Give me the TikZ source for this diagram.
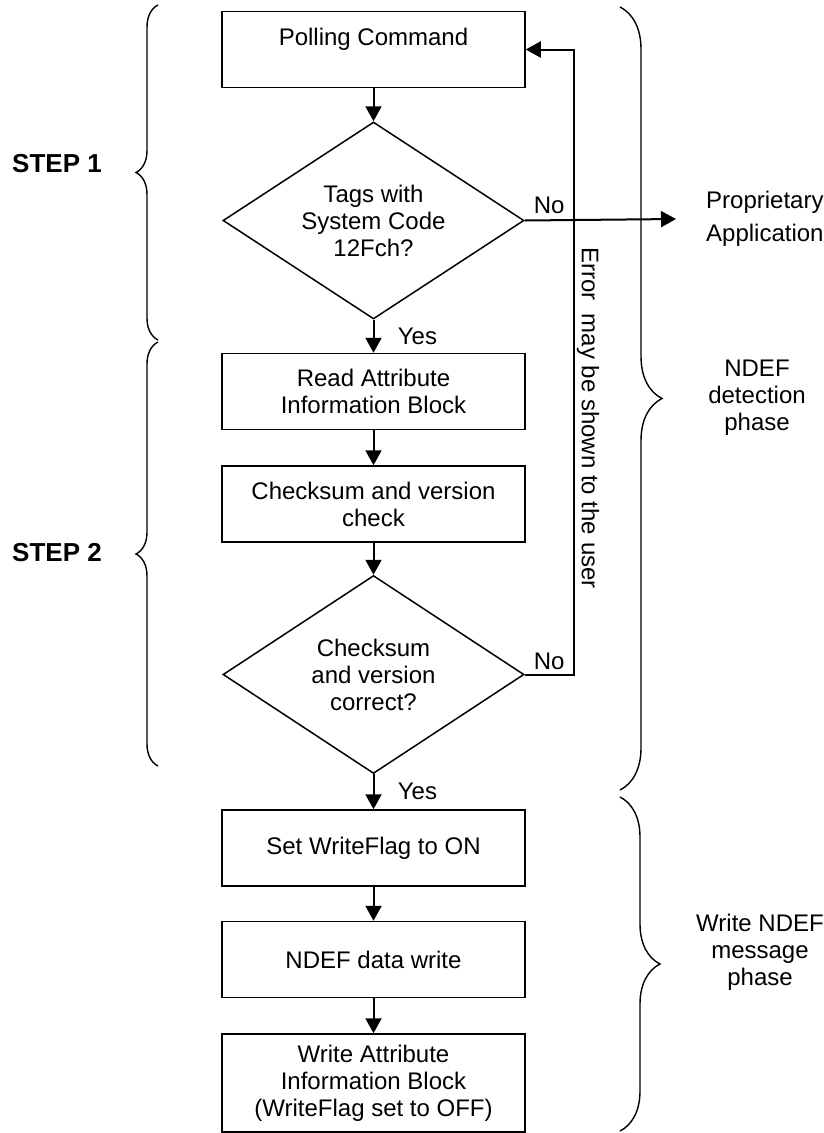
\documentclass[tikz,border=0pt]{standalone}
\usepackage{fontspec}
\setmainfont{Liberation Sans}
\usetikzlibrary{positioning,shapes.geometric,arrows.meta,decorations.pathreplacing}

\tikzset{
	stepbox/.style={draw,line width=1.5pt,minimum width=303pt,minimum height=76pt,inner sep=0pt,align=center},
	decide/.style={draw,diamond,aspect=1.5,line width=1.5pt,minimum width=301pt,minimum height=197pt,inner sep=0pt,align=center},
	arr/.style={line width=2pt,-{Triangle[length=15pt 0,width=16pt 0]}},
	brc/.style={decorate,decoration={brace,amplitude=#1},line width=1.4pt},
	lbl/.style={inner xsep=8pt,inner ysep=6pt},
	phase/.style={align=center,inner sep=0pt}
}

\begin{document}
\begin{tikzpicture}[x=1pt,y=1pt,font=\fontsize{24}{27}\selectfont]
		\useasboundingbox (0,0) rectangle (823,-1133);
		\node[stepbox,text depth=26pt] (poll) at (373.5,-49.5) {Polling Command};
		\node[decide,below=33pt of poll] (tags) {Tags with\\System Code\\12Fch?};
		\node[stepbox,below=33pt of tags] (read) {Read Attribute\\Information Block};
		\node[stepbox,below=35pt of read] (chk) {Checksum and version\\check};
		\node[decide,below=32pt of chk,minimum height=198pt] (csok) {Checksum\\and version\\correct?};
		\node[stepbox,below=35pt of csok] (setw) {Set WriteFlag to ON};
		\node[stepbox,below=34pt of setw] (ndefw) {NDEF data write};
		\node[stepbox,below=35pt of ndefw,minimum height=98pt] (wattr) {Write Attribute\\Information Block\\(WriteFlag set to OFF)};
		
		\draw[arr] (poll) -- (tags);
		\draw[arr] (tags) -- node[right=20pt]{Yes} (read);
		\draw[arr] (read) -- (chk);
		\draw[arr] (chk) -- (csok);
		\draw[arr] (csok) -- node[right=20pt]{Yes} (setw);
		\draw[arr] (setw) -- (ndefw);
		\draw[arr] (ndefw) -- (wattr);
		
		\coordinate (propin) at (676,-219);
		\node[right=30pt of propin,align=left,inner sep=0pt] (prop) {Proprietary\\[6pt]Application};
		\draw[arr] (tags.east) -- node[lbl,pos=0,anchor=south west]{No} (propin);
		\draw[arr] (csok.east) -- node[lbl,pos=0,anchor=south west,inner ysep=4pt]{No} ++(49,0) |- (poll.east);
		\node[rotate=-90,inner sep=0pt] (err) at (588,-418) {Error~ may be shown to the user};
		
		\draw[brc=22pt] (158,-340) -- (158,-5);
		\draw[brc=22pt] (158,-766) -- (158,-342);
		\draw[brc=42pt] (620,-7) -- (620,-790);
		\draw[brc=40pt] (620,-797) -- (620,-1131);
		\node[font=\fontsize{26}{30}\selectfont\bfseries] (step1) at (57,-164) {STEP 1};
		\node[font=\fontsize{26}{30}\selectfont\bfseries] (step2) at (57,-553) {STEP 2};
		\node[phase] (detect) at (757,-398) {NDEF\\detection\\phase};
		\node[phase] (wphase) at (760,-952) {Write NDEF\\message\\phase};
	\end{tikzpicture}
\end{document}
